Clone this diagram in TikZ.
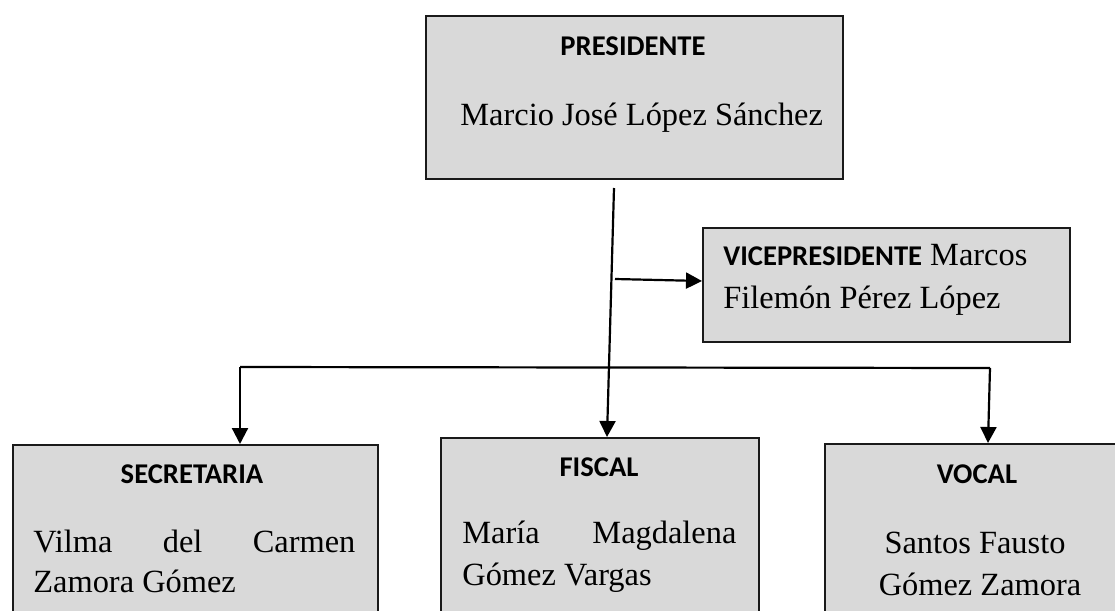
\documentclass[tikz,border=0pt]{standalone}
\usepackage{fontspec}
\setmainfont{Liberation Serif}
\newfontfamily\titlefont{Carlito}
\usetikzlibrary{arrows.meta}
\definecolor{boxgray}{HTML}{D9D9D9}
\definecolor{edgecol}{HTML}{1A1A1A}
\begin{document}
\begin{tikzpicture}[x=0.5pt,y=-0.5pt,
  box/.style={draw=edgecol, line width=1pt, fill=boxgray, rectangle, anchor=north west, inner sep=0pt},
  ttl/.style={font=\titlefont\bfseries\fontsize{14.3}{17}\selectfont, inner sep=0pt, anchor=base},
  nm/.style={font=\fontsize{16.2}{19}\selectfont, inner sep=0pt, anchor=base west},
  nmc/.style={font=\fontsize{16.2}{19}\selectfont, inner sep=0pt, anchor=base},
  conn/.style={draw=black, line width=1.1pt},
  arr/.style={conn, -{Triangle[length=8pt,width=8pt]}}]
\useasboundingbox (0,0) rectangle (1115,611);
\clip (0,0) rectangle (1115,611);
\fill[white] (0,0) rectangle (1115,611);
% boxes
\node[box, minimum width=208.5pt, minimum height=81.5pt] (pres) at (425,15) {};
\node[box, minimum width=183.5pt, minimum height=57pt] (vp) at (702,227) {};
\node[box, minimum width=182.5pt, minimum height=100pt] (sec) at (12,444) {};
\node[box, minimum width=159pt, minimum height=100pt] (fis) at (440,437) {};
\node[box, minimum width=160pt, minimum height=100pt] (voc) at (824,443) {};
% texts
\node[ttl] (presT) at (633,55) {PRESIDENTE};
\node[nm] (presN) at (460,125) {Marcio José López Sánchez};
\node[nm] (vpT) at (723,265) {{\titlefont\bfseries\fontsize{14.3}{17}\selectfont VICEPRESIDENTE} Marcos};
\node[nm] (vpN) at (723,308) {Filemón Pérez López};
\node[ttl] (secT) at (192,483) {SECRETARIA};
\node[nm] (secN1) at (33,552) {\makebox[161pt][s]{Vilma\hfill del\hfill Carmen}};
\node[nm] (secN2) at (33,592) {Zamora Gómez};
\node[ttl] (fisT) at (599,476) {FISCAL};
\node[nm] (fisN1) at (462,543) {\makebox[137pt][s]{María\hfill Magdalena}};
\node[nm] (fisN2) at (462,585) {Gómez Vargas};
\node[ttl] (vocT) at (977,483) {VOCAL};
\node[nmc] (vocN1) at (975,553) {Santos Fausto};
\node[nmc] (vocN2) at (980,595) {Gómez Zamora};
% connectors
\coordinate (ptop) at (614,188);
\coordinate (ftip) at (607,437);
\coordinate (vstart) at (615,279);
\coordinate (busL) at (240,367);
\coordinate (busR) at (990,368);
\draw[arr] (ptop) -- (ftip);
\draw[arr] (vstart) -- (vp.west |- 0,281);
\draw[conn] (busL) -- (busR);
\draw[arr] (busL) -- (sec.north -| busL);
\draw[arr] (busR) -- (988,443);
\end{tikzpicture}
\end{document}
